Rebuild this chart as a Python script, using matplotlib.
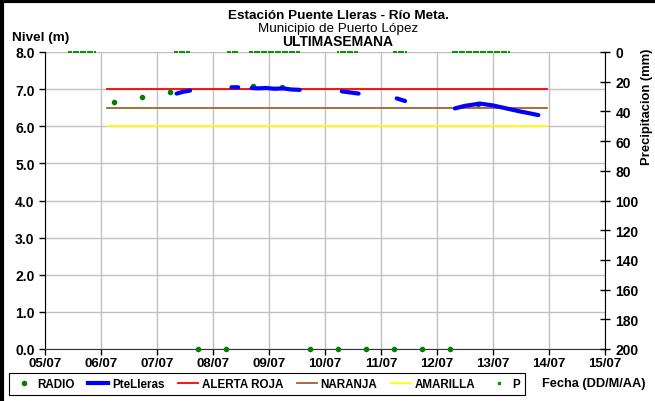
import numpy as np
import matplotlib
matplotlib.use("Agg")
import matplotlib.pyplot as plt
from matplotlib.lines import Line2D

plt.rcParams['font.family'] = ['Liberation Sans', 'DejaVu Sans']

# dias desde 05/07 00:00
tick_labels = ["05/07", "06/07", "07/07", "08/07", "09/07", "10/07",
               "11/07", "12/07", "13/07", "14/07", "15/07"]

# RADIO (m)
radio_t = [1.23, 1.73, 2.23, 2.73, 3.23, 3.71, 4.23, 4.73, 5.23, 5.73, 6.23, 6.73, 7.23, 7.73]
radio_v = [6.64, 6.79, 6.91, 0.0, 0.0, 7.08, 7.05, 0.0, 0.0, 0.0, 0.0, 0.0, 0.0, 6.60]

# PteLleras (m), tramos separados con nan
lleras_t = [2.35, 2.47, 2.59, np.nan,
            3.33, 3.45, np.nan,
            3.69, 3.80, 3.95, 4.10, 4.25, 4.40, 4.55, np.nan,
            5.30, 5.45, 5.60, np.nan,
            6.28, 6.43, np.nan,
            7.32, 7.50, 7.77, 8.00, 8.24, 8.48, 8.65, 8.81]
lleras_v = [6.88, 6.93, 6.96, np.nan,
            7.05, 7.05, np.nan,
            7.03, 7.02, 7.03, 7.01, 7.02, 6.99, 6.98, np.nan,
            6.94, 6.91, 6.88, np.nan,
            6.75, 6.68, np.nan,
            6.48, 6.55, 6.61, 6.56, 6.48, 6.40, 6.35, 6.30]

# umbrales
umbral_t = [1.11, 8.96]
alerta_roja = 7.0
naranja = 6.5
amarilla = 6.0

# precipitacion (mm): tramos horarios con valor 0
p_tramos = [(0.43, 0.92), (2.32, 2.59), (3.27, 3.47), (3.66, 4.55),
            (5.24, 5.61), (6.23, 6.45), (7.28, 8.32)]
p_valor = 0.0

fig = plt.figure(figsize=(6.55, 4.02), dpi=100)
ax = fig.add_axes([45 / 655, 1 - 350 / 402, 560 / 655, 297 / 402])

ax.set_xlim(0, 10)
ax.set_ylim(0, 8)
ax.set_xticks(range(11))
ax.set_xticklabels(tick_labels)
ax.set_yticks(np.arange(0, 8.1, 1.0))
ax.set_yticklabels(["%.1f" % v for v in np.arange(0, 8.1, 1.0)])
ax.grid(True, color="#c0c0c0", lw=1.0)
ax.set_axisbelow(True)
ax.spines["top"].set_visible(False)
ax.spines["right"].set_visible(False)
ax.spines["left"].set_color("black")
ax.spines["bottom"].set_color("#333333")
ax.tick_params(axis="both", direction="out", length=4, width=1)
ax.tick_params(axis="y", labelsize=10)
ax.tick_params(axis="x", labelsize=9.5, pad=2)
for lab in ax.get_xticklabels() + ax.get_yticklabels():
    lab.set_fontweight("bold")

ax.plot(umbral_t, [amarilla] * 2, color="#ffff00", lw=1.3, zorder=2)
ax.plot(umbral_t, [naranja] * 2, color="#a0622d", lw=1.3, zorder=2)
ax.plot(umbral_t, [alerta_roja] * 2, color="#ff0000", lw=1.3, zorder=2)
ax.plot(radio_t, radio_v, "o", color="#008000", ms=3, ls="none", zorder=3, clip_on=False)
ax.plot(lleras_t, lleras_v, color="#0000ff", lw=3, solid_capstyle="round", zorder=4)

ax2 = ax.twinx()
ax2.set_ylim(200, 0)
ax2.set_yticks(range(0, 201, 20))
ax2.spines["top"].set_visible(False)
ax2.spines["left"].set_visible(False)
ax2.spines["bottom"].set_visible(False)
ax2.spines["right"].set_color("black")
ax2.tick_params(axis="y", labelsize=10, direction="inout", length=7, width=1, pad=4)
for lab in ax2.get_yticklabels():
    lab.set_fontweight("bold")
for a, b in p_tramos:
    tt = np.arange(a, b + 1e-6, 1 / 24)
    ax2.plot(tt, [p_valor] * len(tt), "s", color="#009a00", ms=2.0, mew=0,
             ls="none", clip_on=False, zorder=5)

fig.text(338 / 655, 1 - 16 / 402, "Estación Puente Lleras - Río Meta.", ha="center",
         va="center", fontsize=9.7, fontweight="bold")
fig.text(338 / 655, 1 - 29 / 402, "Municipio de Puerto López", ha="center",
         va="center", fontsize=9.7)
fig.text(338 / 655, 1 - 42 / 402, "ULTIMASEMANA", ha="center",
         va="center", fontsize=10, fontweight="bold")
fig.text(12 / 655, 1 - 38 / 402, "Nivel (m)", ha="left", va="center",
         fontsize=9.7, fontweight="bold")
fig.text(647 / 655, 1 - 107 / 402, "Precipitacion (mm)", ha="center", va="center",
         rotation=90, fontsize=9.4, fontweight="bold")
fig.text(594 / 655, 1 - 384 / 402, "Fecha (DD/M/AA)", ha="center", va="center",
         fontsize=9.2, fontweight="bold")

handles = [
    Line2D([], [], marker="o", color="#008000", ms=3, ls="none"),
    Line2D([], [], color="#0000ff", lw=3),
    Line2D([], [], color="#ff0000", lw=1.3),
    Line2D([], [], color="#a0622d", lw=1.3),
    Line2D([], [], color="#ffff00", lw=1.3),
    Line2D([], [], marker="s", color="#009a00", ms=2, ls="none"),
]
names = ["RADIO", "PteLleras", "ALERTA ROJA", "NARANJA", "AMARILLA", "P"]
leg = fig.legend(handles, names, loc="center", ncol=6, mode="expand",
                 bbox_to_anchor=(9 / 655, 1 - 396 / 402, 516 / 655, 22 / 402),
                 borderaxespad=0, fancybox=False, edgecolor="black", framealpha=1,
                 handlelength=1.7, handletextpad=0.3, columnspacing=0.8,
                 prop={"size": 8.4, "weight": "bold"})
leg.get_frame().set_linewidth(0.8)

# marco exterior
fig.add_artist(Line2D([0, 1], [1 - 2 / 402] * 2, color="black", lw=3, transform=fig.transFigure))
fig.add_artist(Line2D([2 / 655] * 2, [0, 1], color="black", lw=3, transform=fig.transFigure))

fig.savefig("out.png", dpi=100)
